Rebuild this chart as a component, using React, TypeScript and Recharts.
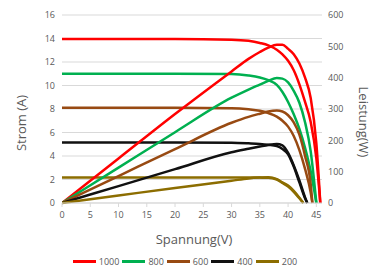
import React from 'react'
import { CartesianGrid, Legend, Line, LineChart, XAxis, YAxis } from 'recharts'

// irradiance levels (W/m²) and their colors
const levels = ['1000', '800', '600', '400', '200']
const colors = ['#FF0000', '#00B050', '#984A12', '#111111', '#8C6D00']

// voltage points per curve (V)
const volt1000 = [0, 10, 20, 30, 33, 35, 36.5, 38, 39, 40, 41, 42, 43, 44, 45, 45.7]
const volt800 = [0, 10, 20, 30, 33, 35, 36.5, 38, 39, 40, 41, 42, 43, 44, 45]
const volt600 = [0, 10, 20, 30, 33, 35, 36.5, 38, 39, 40, 41, 42, 43, 44, 44.3]
const volt400 = [0, 10, 20, 30, 33, 35, 36.5, 38, 39, 40, 41, 42, 43, 43.4]
const volt200 = [0, 10, 20, 30, 33, 35, 36.5, 38, 39, 40, 41, 42, 42.7]

// current (A)
const strom1000 = [13.95, 13.95, 13.95, 13.9, 13.8, 13.62, 13.42, 13.05, 12.65, 12.1, 11.3, 10.1, 8.6, 6.9, 3.8, 0]
const strom800 = [11.0, 11.0, 11.0, 10.97, 10.85, 10.68, 10.45, 10.05, 9.45, 8.6, 7.55, 6.3, 4.7, 2.7, 0]
const strom600 = [8.1, 8.1, 8.1, 8.07, 7.98, 7.85, 7.65, 7.35, 7.0, 6.5, 5.7, 4.5, 2.9, 0.9, 0]
const strom400 = [5.15, 5.15, 5.15, 5.13, 5.08, 5.03, 4.96, 4.85, 4.6, 4.15, 3.1, 1.75, 0.4, 0]
const strom200 = [2.18, 2.18, 2.18, 2.18, 2.17, 2.16, 2.15, 2.0, 1.7, 1.4, 0.95, 0.4, 0]

// power (W)
const leistung1000 = [0, 142, 284, 420, 460, 482, 496, 505, 505, 492, 475, 445, 400, 335, 190, 0]
const leistung800 = [0, 113, 226, 336, 362, 378, 390, 399, 397, 385, 358, 320, 258, 165, 0]
const leistung600 = [0, 86, 172, 256, 275, 285, 292, 295, 292, 280, 257, 218, 150, 60, 0]
const leistung400 = [0, 54, 108, 162, 173, 180, 185, 188, 184, 160, 120, 72, 18, 0]
const leistung200 = [0, 24, 48, 71, 78.5, 81, 82, 76, 66, 56, 39, 17, 0]

const xTicks = [0, 5, 10, 15, 20, 25, 30, 35, 40, 45]
const leftTicks = [0, 2, 4, 6, 8, 10, 12, 14, 16]
const rightTicks = [0, 100, 200, 300, 400, 500, 600]

const volts = [volt1000, volt800, volt600, volt400, volt200]
const stroms = [strom1000, strom800, strom600, strom400, strom200]
const leistungs = [leistung1000, leistung800, leistung600, leistung400, leistung200]

const toPoints = (v: number[], vals: number[]) => v.map((x, i) => ({ v: x, y: vals[i] }))

const font = '"Open Sans", sans-serif'
const gray = '#595959'

const renderLegend = (props: any) => {
  const items = levels
    .map((lv) => (props.payload || []).find((e: any) => e.value === lv))
    .filter(Boolean)
  return (
    <div style={{ height: 20, boxSizing: 'border-box', paddingTop: 9, display: 'flex', justifyContent: 'center', fontFamily: font, fontSize: 9, color: gray }}>
      {items.map((entry: any) => (
        <div key={entry.value} style={{ display: 'flex', alignItems: 'center', lineHeight: '12px', marginRight: 3 }}>
          <div style={{ width: 23, height: 3, background: entry.color, marginRight: 3 }} />
          <span>{entry.value}</span>
        </div>
      ))}
    </div>
  )
}

const LeftLabel = () => (
  <text x={21} y={123} transform="rotate(-90 21 123)" textAnchor="middle" dominantBaseline="central" fontFamily={font} fontSize={13} fill={gray}>
    Strom (A)
  </text>
)

const RightLabel = () => (
  <text x={364} y={122} transform="rotate(90 364 122)" textAnchor="middle" dominantBaseline="central" fontFamily={font} fontSize={13} fill={gray}>
    Leistung(W)
  </text>
)

const BottomLabel = () => (
  <text x={194} y={239} textAnchor="middle" dominantBaseline="central" fontFamily={font} fontSize={13} fill={gray}>
    Spannung(V)
  </text>
)

export default function App() {
  return (
    <div style={{ position: 'absolute', left: 0, top: 0 }}>
      <LineChart width={373} height={267} margin={{ top: 15, right: 0, bottom: 0, left: 0 }}>
        <CartesianGrid yAxisId="left" vertical={false} stroke="#D9D9D9" />
        <XAxis
          type="number"
          dataKey="v"
          domain={[0, 46]}
          ticks={xTicks}
          allowDataOverflow
          height={44}
          stroke="#D9D9D9"
          tickSize={4}
          tick={{ fill: gray, fontSize: 9, fontFamily: font, dy: 3 }}
          label={<BottomLabel />}
        />
        <YAxis
          yAxisId="left"
          domain={[0, 16]}
          ticks={leftTicks}
          width={62}
          axisLine={false}
          tickLine={false}
          tickSize={5}
          tick={{ fill: gray, fontSize: 9, fontFamily: font }}
          label={<LeftLabel />}
        />
        <YAxis
          yAxisId="right"
          orientation="right"
          domain={[0, 600]}
          ticks={rightTicks}
          width={51}
          axisLine={false}
          tickLine={false}
          tickSize={4}
          tick={{ fill: gray, fontSize: 9, fontFamily: font, textAnchor: 'start' }}
          label={<RightLabel />}
        />
        <Legend verticalAlign="bottom" content={renderLegend} />
        {levels.map((lv, i) => (
          <Line
            key={'i' + lv}
            yAxisId="left"
            data={toPoints(volts[i], stroms[i])}
            dataKey="y"
            name={lv}
            type="monotone"
            stroke={colors[i]}
            strokeWidth={2.5}
            dot={false}
            isAnimationActive={false}
          />
        ))}
        {levels.map((lv, i) => (
          <Line
            key={'p' + lv}
            yAxisId="right"
            data={toPoints(volts[i], leistungs[i])}
            dataKey="y"
            name={lv + 'W'}
            type="monotone"
            stroke={colors[i]}
            strokeWidth={2.5}
            dot={false}
            legendType="none"
            isAnimationActive={false}
          />
        ))}
      </LineChart>
    </div>
  )
}
